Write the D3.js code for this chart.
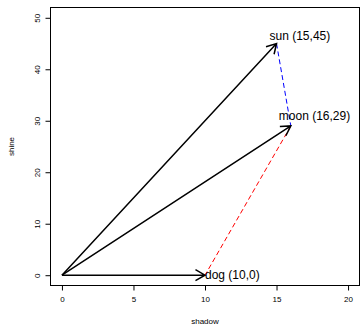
<!DOCTYPE html>
<html>
<head>
<meta charset="utf-8">
<script src="https://cdn.jsdelivr.net/npm/d3@7"></script>
<style>
  body { margin: 0; background: #fff; }
  text { font-family: "Liberation Sans", Arial, sans-serif; }
</style>
</head>
<body>
<div id="chart"></div>
<script>
var width = 360;
var height = 327;

// data
const names = ["dog", "moon", "sun"];
const shadow = [10, 16, 15];
const shine = [0, 29, 45];
const xTicks = [0, 5, 10, 15, 20];
const yTicks = [0, 10, 20, 30, 40, 50];

// dashed links between points: [from, to, colour]
const joins = [["sun", "moon", "blue"], ["moon", "dog", "red"]];

const points = names.map((n, i) => ({name: n, x: shadow[i], y: shine[i]}));
const byName = {};
points.forEach(p => byName[p.name] = p);

var svg = d3.select("#chart").append("svg")
    .attr("width", width)
    .attr("height", height);

// R style 4% padding on the limits
var x = d3.scaleLinear().domain([-0.8, 20.8]).range([50.5, 359.5]);
var y = d3.scaleLinear().domain([-2, 52]).range([285.5, 7.5]);

svg.append("rect")
    .attr("x", x.range()[0]).attr("y", y.range()[1])
    .attr("width", x.range()[1] - x.range()[0])
    .attr("height", y.range()[0] - y.range()[1])
    .attr("fill", "none").attr("stroke", "#000").attr("stroke-width", 1);

// axes
var xAxis = svg.append("g")
    .attr("transform", "translate(0," + y.range()[0] + ")")
    .call(d3.axisBottom(x).tickValues(xTicks).tickSize(5).tickPadding(6));
var yAxis = svg.append("g")
    .attr("transform", "translate(" + x.range()[0] + ",0)")
    .call(d3.axisLeft(y).tickValues(yTicks).tickSize(5).tickPadding(6));

[xAxis, yAxis].forEach(a => {
    a.select(".domain").remove();
    a.selectAll("text").attr("font-size", 8).attr("fill", "#000")
        .style("font-family", "'Liberation Sans', Arial, sans-serif");
});
yAxis.selectAll(".tick text")
    .attr("transform", function () {
        return "rotate(-90," + (-11) + ",0)";
    })
    .attr("x", -11).attr("dy", "0")
    .attr("text-anchor", "middle");

svg.append("text")
    .attr("x", (x.range()[0] + x.range()[1]) / 2).attr("y", 324)
    .attr("text-anchor", "middle").attr("font-size", 8)
    .text("shadow");
svg.append("text")
    .attr("transform", "translate(14," + ((y.range()[0] + y.range()[1]) / 2) + ") rotate(-90)")
    .attr("text-anchor", "middle").attr("font-size", 8)
    .text("shine");

// dashed joins
svg.append("g").selectAll("line")
    .data(joins)
    .enter().append("line")
    .attr("x1", d => x(byName[d[0]].x)).attr("y1", d => y(byName[d[0]].y))
    .attr("x2", d => x(byName[d[1]].x)).attr("y2", d => y(byName[d[1]].y))
    .attr("stroke", d => d[2]).attr("stroke-width", 1)
    .attr("stroke-dasharray", "5,3");

// arrows from origin
function arrowPath(p) {
    const x0 = x(0), y0 = y(0), x1 = x(p.x), y1 = y(p.y);
    const ang = Math.atan2(y1 - y0, x1 - x0);
    const len = 11, spread = Math.PI / 6;
    const a1 = [x1 - len * Math.cos(ang - spread), y1 - len * Math.sin(ang - spread)];
    const a2 = [x1 - len * Math.cos(ang + spread), y1 - len * Math.sin(ang + spread)];
    return "M" + x0 + "," + y0 + "L" + x1 + "," + y1 +
        "M" + a1[0] + "," + a1[1] + "L" + x1 + "," + y1 + "L" + a2[0] + "," + a2[1];
}
svg.append("g").selectAll("path")
    .data(points)
    .enter().append("path")
    .attr("d", arrowPath)
    .attr("fill", "none").attr("stroke", "#000").attr("stroke-width", 1.5);

// labels
const labelOffset = {dog: [0, 4], moon: [-12, -6], sun: [-7, -4]};
svg.append("g").selectAll("text")
    .data(points)
    .enter().append("text")
    .attr("x", d => x(d.x) + labelOffset[d.name][0])
    .attr("y", d => y(d.y) + labelOffset[d.name][1])
    .attr("font-size", 12)
    .text(d => d.name + " (" + d.x + "," + d.y + ")");
</script>
</body>
</html>
